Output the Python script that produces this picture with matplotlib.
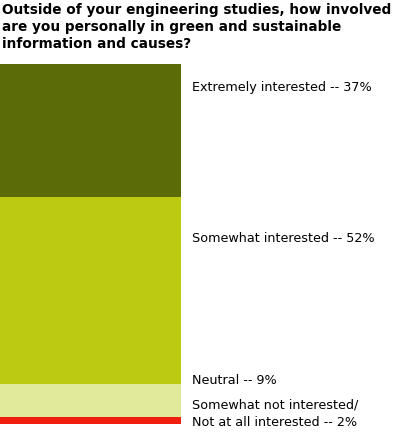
import matplotlib
matplotlib.use("Agg")
import matplotlib.pyplot as plt

categories = ["Extremely interested", "Somewhat interested", "Neutral",
              "Somewhat not interested/\nNot at all interested"]
values = [37, 52, 9, 2]
colors = ["#5b6b08", "#bccb12", "#e1e99b", "#f01e0e"]
labels = ["Extremely interested -- 37%", "Somewhat interested -- 52%",
          "Neutral -- 9%", "Somewhat not interested/\nNot at all interested -- 2%"]
label_y_px = [88, 238, 381, 414]  # pixel y (from top) of label centres

W, H = 400, 433
fig = plt.figure(figsize=(W / 100, H / 100), dpi=100)
ax = fig.add_axes([0, 9 / H, 181 / W, 360 / H])
bottom = sum(values)
for v, c in zip(values, colors):
    bottom -= v
    ax.bar(0, v, bottom=bottom, width=1.0, color=c, linewidth=0)
ax.set_xlim(-0.5, 0.5)
ax.set_ylim(0, sum(values))
ax.axis("off")

fig.text(2 / W, 1 - 27 / H,
         "Outside of your engineering studies, how involved\nare you personally in green and sustainable\ninformation and causes?",
         ha="left", va="center", fontsize=9.8, fontweight="bold", family="DejaVu Sans",
         linespacing=1.3)
for lab, y in zip(labels, label_y_px):
    fig.text(192 / W, 1 - y / H, lab, ha="left", va="center", fontsize=9.2,
             family="DejaVu Sans", linespacing=1.5)

fig.savefig("out.png", dpi=100)
